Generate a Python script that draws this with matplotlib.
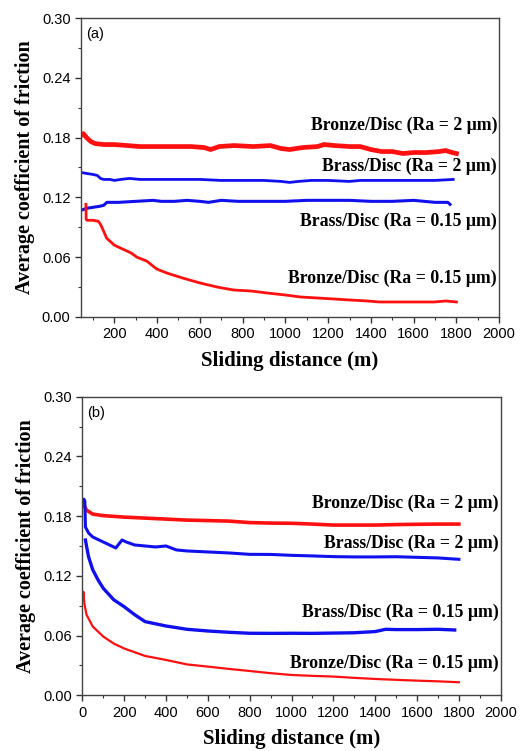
import matplotlib.pyplot as plt
from matplotlib.ticker import MultipleLocator, FormatStrFormatter

# ---- panel (a) ----
a_bronze2_x = [44, 55, 70, 90, 110, 150, 200, 260, 320, 400, 480, 560, 620, 650, 690, 760, 850, 930, 980, 1020,
               1080, 1150, 1180, 1230, 1300, 1350, 1400, 1450, 1500, 1550, 1600, 1660, 1720, 1750, 1780, 1800]
a_bronze2_y = [0.182, 0.184, 0.180, 0.176, 0.174, 0.173, 0.173, 0.172, 0.171, 0.171, 0.171, 0.171, 0.170, 0.168,
               0.171, 0.172, 0.171, 0.172, 0.169, 0.168, 0.170, 0.171, 0.173, 0.172, 0.171, 0.171, 0.168, 0.166,
               0.166, 0.164, 0.165, 0.165, 0.166, 0.167, 0.165, 0.164]

a_brass2_x = [44, 70, 100, 120, 135, 150, 180, 200, 230, 270, 320, 400, 500, 600, 700, 800, 900, 980, 1020,
              1060, 1120, 1200, 1300, 1350, 1400, 1500, 1600, 1700, 1785]
a_brass2_y = [0.145, 0.144, 0.143, 0.142, 0.139, 0.138, 0.138, 0.137, 0.138, 0.139, 0.138, 0.138, 0.138, 0.138,
              0.137, 0.137, 0.137, 0.136, 0.135, 0.136, 0.137, 0.137, 0.136, 0.137, 0.137, 0.137, 0.137, 0.137, 0.138]

a_brass015_x = [44, 70, 100, 130, 150, 165, 180, 220, 300, 380, 420, 480, 540, 600, 640, 700, 780, 850, 900,
                1000, 1100, 1200, 1300, 1400, 1500, 1600, 1700, 1760, 1770]
a_brass015_y = [0.107, 0.109, 0.110, 0.111, 0.112, 0.115, 0.115, 0.115, 0.116, 0.117, 0.116, 0.116, 0.117, 0.116,
                0.115, 0.117, 0.116, 0.116, 0.116, 0.116, 0.117, 0.117, 0.117, 0.116, 0.116, 0.117, 0.115, 0.115, 0.113]

a_bronze015_x = [67, 68, 72, 80, 100, 125, 135, 150, 164, 200, 240, 280, 305, 352, 375, 399, 446, 520, 602, 680,
                 758, 840, 915, 1000, 1071, 1150, 1227, 1300, 1383, 1440, 1461, 1540, 1602, 1696, 1750, 1800]
a_bronze015_y = [0.113, 0.098, 0.097, 0.097, 0.097, 0.096, 0.093, 0.086, 0.079, 0.072, 0.068, 0.064, 0.060, 0.056,
                 0.052, 0.048, 0.044, 0.039, 0.034, 0.030, 0.027, 0.026, 0.024, 0.022, 0.020, 0.019, 0.018, 0.017,
                 0.016, 0.015, 0.015, 0.015, 0.015, 0.015, 0.016, 0.015]

# ---- panel (b) ----
b_bronze2_x = [3, 6, 10, 20, 50, 100, 200, 300, 400, 500, 600, 700, 800, 900, 1000, 1100, 1200, 1300, 1400,
               1500, 1600, 1700, 1800]
b_bronze2_y = [0.192, 0.194, 0.190, 0.186, 0.182, 0.1805, 0.179, 0.178, 0.177, 0.176, 0.1755, 0.175, 0.1735, 0.173,
               0.1728, 0.172, 0.171, 0.171, 0.171, 0.1715, 0.1718, 0.172, 0.172]

b_brass2_x = [3, 8, 12, 15, 30, 50, 100, 130, 160, 175, 190, 210, 250, 300, 350, 400, 450, 500, 600, 700, 800,
              900, 1000, 1100, 1200, 1300, 1400, 1500, 1600, 1700, 1800]
b_brass2_y = [0.196, 0.197, 0.195, 0.169, 0.163, 0.159, 0.154, 0.151, 0.148, 0.152, 0.156, 0.154, 0.151, 0.150,
              0.149, 0.150, 0.146, 0.145, 0.144, 0.143, 0.1416, 0.1415, 0.1406, 0.140, 0.1393, 0.139, 0.139,
              0.1392, 0.1386, 0.138, 0.1366]

b_brass015_x = [15, 20, 30, 50, 75, 100, 150, 200, 250, 300, 400, 500, 600, 700, 800, 900, 1000, 1100, 1200,
                1300, 1400, 1450, 1500, 1600, 1700, 1780]
b_brass015_y = [0.156, 0.150, 0.139, 0.126, 0.116, 0.1075, 0.096, 0.089, 0.081, 0.074, 0.0696, 0.0663, 0.0646,
                0.0633, 0.0623, 0.0622, 0.0623, 0.0622, 0.0625, 0.0628, 0.064, 0.0663, 0.066, 0.066, 0.0663, 0.0656]

b_bronze015_x = [3, 5, 10, 20, 50, 100, 150, 200, 300, 400, 500, 600, 700, 800, 900, 1000, 1100, 1200, 1300,
                 1400, 1500, 1600, 1700, 1800]
b_bronze015_y = [0.098, 0.104, 0.092, 0.081, 0.069, 0.059, 0.052, 0.047, 0.0395, 0.0355, 0.031, 0.0288, 0.0265,
                 0.0244, 0.0222, 0.0204, 0.0195, 0.0188, 0.0175, 0.0164, 0.0155, 0.0147, 0.014, 0.0131]

labels = ['Bronze/Disc (Ra = 2 \u03bcm)', 'Brass/Disc (Ra = 2 \u03bcm)',
          'Brass/Disc (Ra = 0.15 \u03bcm)', 'Bronze/Disc (Ra = 0.15 \u03bcm)']
a_label_y = [0.192, 0.151, 0.096, 0.039]
b_label_y = [0.193, 0.153, 0.083, 0.032]

red = '#ff1010'
blue = '#1010ee'
serif = 'Liberation Serif'
sans = 'Liberation Sans'

fig = plt.figure(figsize=(5.26, 7.51), dpi=100)
ax1 = fig.add_axes([0.154, 0.578, 0.795, 0.398])
ax2 = fig.add_axes([0.1565, 0.0742, 0.7954, 0.3976])

ax1.plot(a_bronze2_x, a_bronze2_y, color=red, lw=3.4)
ax1.plot(a_brass2_x, a_brass2_y, color=blue, lw=2.0)
ax1.plot(a_brass015_x, a_brass015_y, color=blue, lw=2.2)
ax1.plot(a_bronze015_x, a_bronze015_y, color=red, lw=2.0)

ax2.plot(b_bronze2_x, b_bronze2_y, color=red, lw=2.6)
ax2.plot(b_brass2_x, b_brass2_y, color=blue, lw=2.2)
ax2.plot(b_brass015_x, b_brass015_y, color=blue, lw=2.4)
ax2.plot(b_bronze015_x, b_bronze015_y, color=red, lw=1.6)

for ax, lab_y, tag, xmin in [(ax1, a_label_y, '(a)', 44), (ax2, b_label_y, '(b)', 0)]:
    ax.set_xlim(xmin, 2000)
    ax.set_ylim(0, 0.30)
    ax.xaxis.set_major_locator(MultipleLocator(200))
    ax.xaxis.set_minor_locator(MultipleLocator(100))
    ax.yaxis.set_major_locator(MultipleLocator(0.06))
    ax.yaxis.set_minor_locator(MultipleLocator(0.03))
    ax.yaxis.set_major_formatter(FormatStrFormatter('%.2f'))
    ax.tick_params(which='major', direction='out', length=4, width=1, labelsize=10.5, color='#333333')
    ax.tick_params(which='minor', direction='out', length=2.5, width=0.8, color='#333333')
    for lbl in ax.get_xticklabels() + ax.get_yticklabels():
        lbl.set_fontfamily(sans)
    for sp in ax.spines.values():
        sp.set_color('#444444')
        sp.set_linewidth(1.0)
    ax.set_xlabel('Sliding distance (m)', fontsize=15, fontweight='bold', family=serif, labelpad=7)
    ax.set_ylabel('Average coefficient of friction', fontsize=14.5, fontweight='bold', family=serif, labelpad=5)
    ax.text(0.012, 0.97, tag, transform=ax.transAxes, ha='left', va='top', fontsize=10.5, family=sans)
    for txt, yy in zip(labels, lab_y):
        ax.text(1990, yy, txt, ha='right', va='center', fontsize=12.8, fontweight='bold', family=serif)

ax1.set_xticks([200, 400, 600, 800, 1000, 1200, 1400, 1600, 1800, 2000])

fig.savefig('out.png', dpi=100)
